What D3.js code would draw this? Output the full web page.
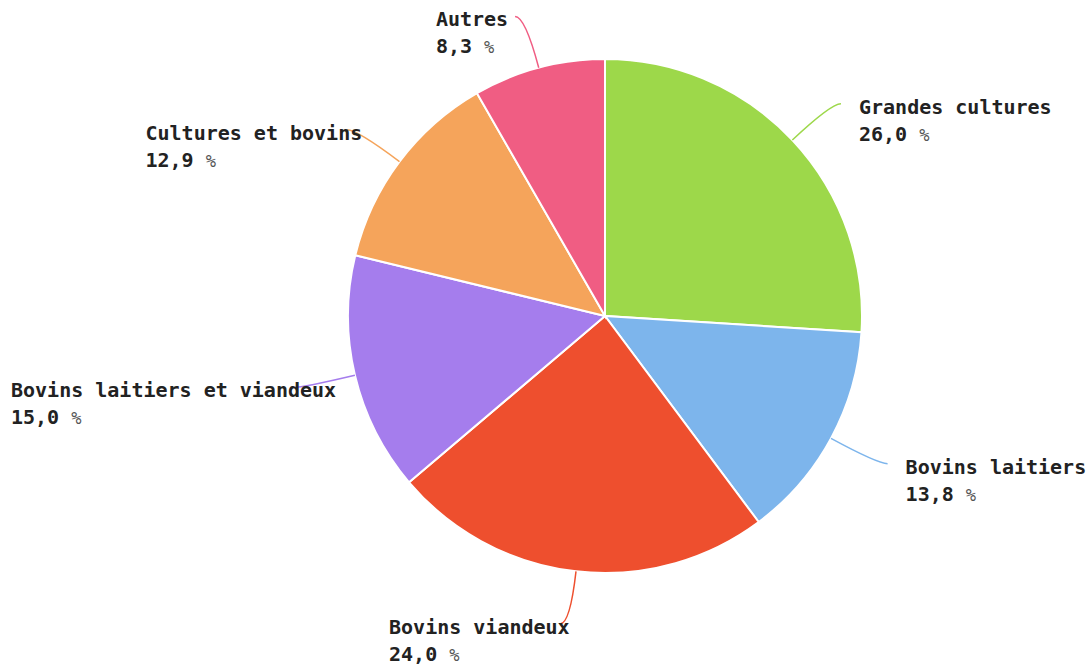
<!DOCTYPE html>
<html>
<head>
<meta charset="utf-8">
<script src="https://cdn.jsdelivr.net/npm/d3@7"></script>
<style>
  body { margin: 0; background: #fff; }
  .lbl { font-family: "DejaVu Sans Mono", monospace; font-weight: bold; font-size: 20px; fill: #222; }
</style>
</head>
<body>
<div id="chart"></div>
<script>
// Orientation des exploitations (part en %)
var categories = ["Grandes cultures", "Bovins laitiers", "Bovins viandeux",
  "Bovins laitiers et viandeux", "Cultures et bovins", "Autres"];
var values = [26.0, 13.8, 24.0, 15.0, 12.9, 8.3];
var colors = ["#9dd84a", "#7db5ec", "#ee4f2e", "#a57ded", "#f5a45b", "#f05d83"];

var svgWidth = 1091;
var svgHeight = 668;
var cx = 605, cy = 316;
var radius = 257;
var elbowRadius = 310;   // where leader lines turn horizontal
var hook = 10;           // short horizontal end of the leader
var gap = 18;            // between leader end and text
var charW = 10.2;        // rough glyph width used to place left-hand labels
var lineH = 27;
var minX = 11;

var data = categories.map(function(c, i) {
  return { name: c, value: values[i], color: colors[i] };
});

var svg = d3.select("#chart").append("svg")
  .attr("width", svgWidth)
  .attr("height", svgHeight);

var g = svg.append("g")
  .attr("transform", `translate(${cx}, ${cy})`);

var pie = d3.pie()
  .sort(null)
  .value(d => d.value);

var arc = d3.arc()
  .innerRadius(0)
  .outerRadius(radius);

var arcs = pie(data);

// Slices
g.selectAll("path.slice")
  .data(arcs)
  .enter()
  .append("path")
  .attr("class", "slice")
  .attr("d", arc)
  .attr("fill", d => d.data.color)
  .attr("stroke", "#fff")
  .attr("stroke-width", 2);

function midAngle(d) { return (d.startAngle + d.endAngle) / 2; }
function polar(a, r) { return [Math.sin(a) * r, -Math.cos(a) * r]; }

var fmt = d3.format(".1f");

// Leader lines
g.selectAll("path.leader")
  .data(arcs)
  .enter()
  .append("path")
  .attr("class", "leader")
  .attr("fill", "none")
  .attr("stroke", d => d.data.color)
  .attr("stroke-width", 1.5)
  .attr("d", function(d) {
    var a = midAngle(d);
    var s = polar(a, radius);
    var e = polar(a, elbowRadius);
    var side = Math.sin(a) >= 0 ? 1 : -1;
    var end = [e[0] + side * hook, e[1]];
    return `M${s[0]},${s[1]} Q${e[0]},${e[1]} ${end[0]},${end[1]}`;
  });

// Labels
var labels = g.selectAll("text.lbl")
  .data(arcs)
  .enter()
  .append("text")
  .attr("class", "lbl")
  .attr("transform", function(d) {
    var a = midAngle(d);
    var e = polar(a, elbowRadius);
    var side = Math.sin(a) >= 0 ? 1 : -1;
    var endX = e[0] + side * hook;
    var x = side > 0 ? endX + gap : endX - gap - charW * d.data.name.length;
    // keep labels inside the left edge
    x = Math.max(x, minX - cx);
    return `translate(${x}, ${e[1] + 10})`;
  });

labels.append("tspan")
  .attr("x", 0)
  .attr("y", 0)
  .text(d => d.data.name);

labels.append("tspan")
  .attr("x", 0)
  .attr("y", lineH)
  .text(d => fmt(d.data.value).replace(".", ",") + " ");

labels.append("tspan")
  .attr("font-weight", "normal")
  .attr("font-size", "17px")
  .attr("fill", "#555")
  .text("%");
</script>
</body>
</html>
